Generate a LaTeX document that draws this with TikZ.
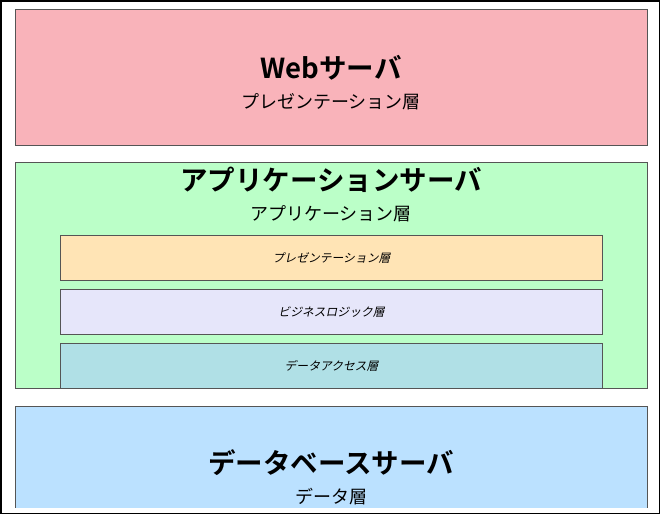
\documentclass[tikz,border=0pt]{standalone}
\usepackage{fontspec}
\setmainfont{Noto Sans CJK JP}
\newfontfamily\cjkbold{Noto Sans CJK JP Bold}
\newfontfamily\cjkit[FakeSlant=0.2]{Noto Sans CJK JP}
\definecolor{webpink}{HTML}{F9B3BA}
\definecolor{appgreen}{HTML}{BBFFC8}
\definecolor{presorange}{HTML}{FFE4B5}
\definecolor{bizlav}{HTML}{E6E6FA}
\definecolor{datablue}{HTML}{B0E0E6}
\definecolor{dbblue}{HTML}{BBE1FF}
\definecolor{edge}{HTML}{555555}
\begin{document}
\begin{tikzpicture}[x=1pt,y=-1pt,
  box/.style={draw=edge, line width=1.1pt, rectangle, inner sep=0pt, anchor=north west},
  title/.style={font=\cjkbold\fontsize{27.5}{31}\selectfont, inner sep=0pt},
  sub/.style={font=\fontsize{18}{21}\selectfont, inner sep=0pt},
  small/.style={font=\cjkit\fontsize{11.8}{14}\selectfont, inner sep=0pt}]
\useasboundingbox (0,0) rectangle (660,514);
\draw[black, line width=1.5pt] (0.75,0.75) rectangle (659.25,513.25);
% Web server
\node[box, fill=webpink, minimum width=632pt, minimum height=136pt] (web) at (15,9) {};
\node[title] (webt) at (331,68) {Webサーバ};
\node[sub] (webs) at (331,102) {プレゼンテーション層};
% Application server
\node[box, fill=appgreen, minimum width=632pt, minimum height=226pt] (app) at (15,162) {};
\node[title] (appt) at (331,180) {アプリケーションサーバ};
\node[sub] (apps) at (331,214) {アプリケーション層};
\node[box, fill=presorange, minimum width=542pt, minimum height=45pt] (pres) at (60,235) {};
\node[small] at (pres.center) {プレゼンテーション層};
\node[box, fill=bizlav, minimum width=542pt, minimum height=45pt] (biz) at (60,289) {};
\node[small] at (biz.center) {ビジネスロジック層};
\node[box, fill=datablue, minimum width=542pt, minimum height=45pt] (dac) at (60,343) {};
\node[small] at (dac.center) {データアクセス層};
% Database server
\begin{scope}
\clip (0,0) rectangle (660,507);
\node[box, fill=dbblue, minimum width=632pt, minimum height=140pt] (db) at (15,406) {};
\end{scope}
\node[title] (dbt) at (331,463) {データベースサーバ};
\node[sub] (dbs) at (331,497) {データ層};
\end{tikzpicture}
\end{document}
